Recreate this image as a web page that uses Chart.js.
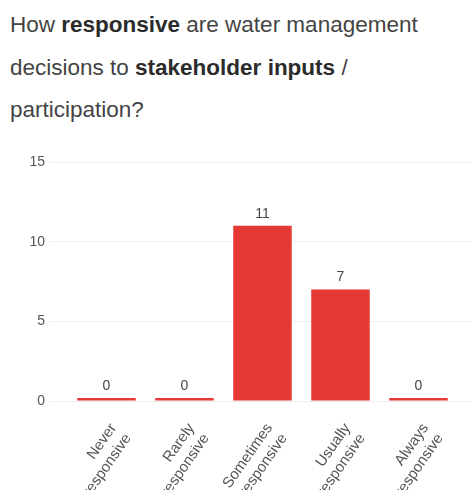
<!DOCTYPE html>
<html>
<head>
<meta charset="utf-8">
<script src="https://cdn.jsdelivr.net/npm/chart.js@4.4.1/dist/chart.umd.min.js"></script>
<style>
  html, body { margin: 0; padding: 0; background: #fff; overflow: hidden; }
  body { width: 472px; height: 490px; position: relative; }
  .question {
    position: absolute; left: 10px; top: 4px; width: 460px;
    font-family: "Liberation Sans", Arial, sans-serif;
    font-size: 22.5px; line-height: 42.5px; color: #444;
  }
  .question b { color: #2b2b2b; }
  .chart-box { position: absolute; left: 0; top: 140px; width: 472px; height: 380px; }
</style>
</head>
<body>
<div class="question">How <b>responsive</b> are water management decisions to <b>stakeholder inputs</b> / participation?</div>
<div class="chart-box"><canvas id="responsiveChart"></canvas></div>

<script>
const answerLabels = [
  ['Never', 'responsive'],
  ['Rarely', 'responsive'],
  ['Sometimes', 'responsive'],
  ['Usually', 'responsive'],
  ['Always', 'responsive']
];
const answerCounts = [0, 0, 11, 7, 0];
const yTicks = [0, 5, 10, 15];

const FONT = '"Liberation Sans", Arial, sans-serif';

// prints the count on top of each bar
const valueLabels = {
  id: 'valueLabels',
  afterDatasetsDraw(chart) {
    const ctx = chart.ctx;
    const meta = chart.getDatasetMeta(0);
    ctx.save();
    ctx.font = '14px ' + FONT;
    ctx.fillStyle = '#444';
    ctx.textAlign = 'center';
    ctx.textBaseline = 'bottom';
    meta.data.forEach((bar, i) => {
      ctx.fillText(String(answerCounts[i]), bar.x, bar.y - 5);
    });
    ctx.restore();
  }
};

function responsiveChart() {
  const ctx = document.getElementById('responsiveChart');

  const data = {
    datasets: [{
      data: answerCounts.map((v, i) => ({ x: i, y: v })),
      backgroundColor: '#e53935',
      borderWidth: 0,
      barPercentage: 0.75,
      categoryPercentage: 1,
      minBarLength: 3
    }]
  };

  const config = {
    type: 'bar',
    data: data,
    options: {
      responsive: true,
      maintainAspectRatio: false,
      animation: false,
      layout: { padding: { top: 22, right: 0, left: 0, bottom: 0 } },
      plugins: {
        legend: { display: false },
        tooltip: { enabled: false }
      },
      scales: {
        x: {
          type: 'linear',
          offset: false,
          min: -0.724,
          max: 4.686,
          grid: { display: false },
          border: { display: false },
          afterFit: s => { s.height = 119; },
          afterBuildTicks: s => { s.ticks = answerLabels.map((l, i) => ({ value: i })); },
          ticks: {
            autoSkip: false,
            minRotation: 55,
            maxRotation: 55,
            padding: 11,
            labelOffset: 7,
            color: '#555',
            font: { family: FONT, size: 15 },
            callback: v => answerLabels[v]
          }
        },
        y: {
          min: 0,
          max: 15,
          afterFit: s => { s.width = 50; },
          afterBuildTicks: s => { s.ticks = yTicks.map(v => ({ value: v })); },
          grid: { color: '#eeeeee', drawTicks: false },
          border: { display: false },
          ticks: {
            padding: 5,
            color: '#555',
            font: { family: FONT, size: 14 }
          }
        }
      }
    },
    plugins: [valueLabels]
  };

  new Chart(ctx, config);
}

responsiveChart();
</script>
</body>
</html>
